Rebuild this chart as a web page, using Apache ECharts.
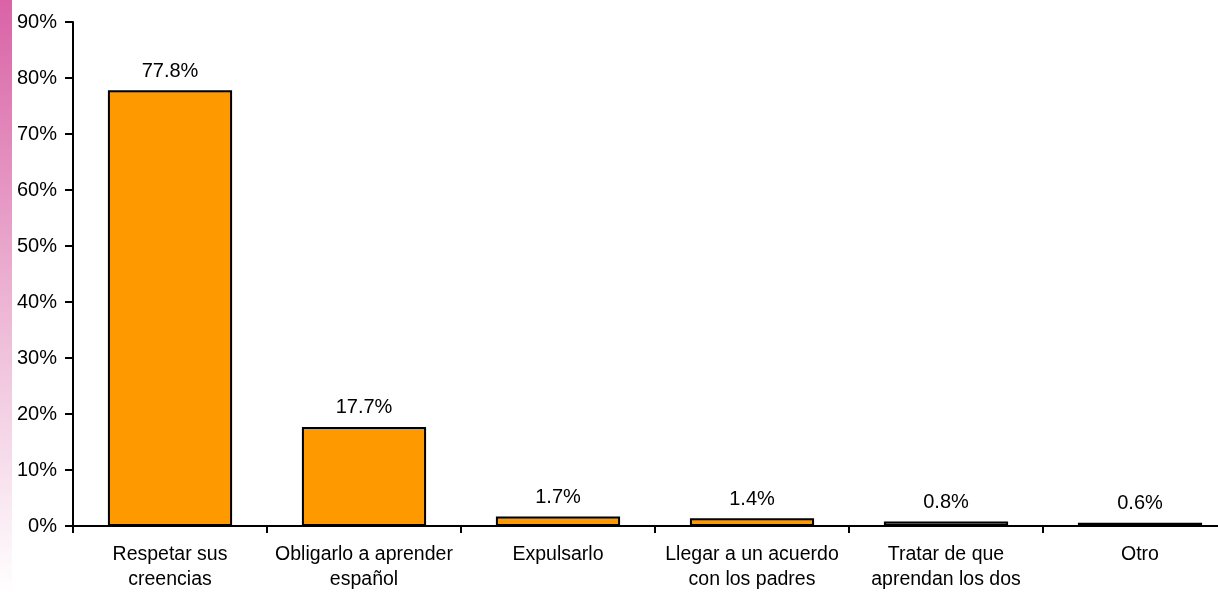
<!DOCTYPE html>
<html>
<head>
<meta charset="utf-8">
<style>
  html, body { margin: 0; padding: 0; background: #fff; }
  #chart { width: 1218px; height: 592px; }
</style>
<script src="https://cdn.jsdelivr.net/npm/echarts@6/dist/echarts.min.js"></script>
</head>
<body>
<div id="chart"></div>
<script>
// categorias y valores (porcentaje)
const categories = [
  'Respetar sus\ncreencias',
  'Obligarlo a aprender\nespañol',
  'Expulsarlo',
  'Llegar a un acuerdo\ncon los padres',
  'Tratar de que\naprendan los dos',
  'Otro'
]
const values = [77.8, 17.7, 1.7, 1.4, 0.8, 0.6]

const myChart = echarts.init(document.getElementById('chart'))

const font = 'Liberation Sans, Arial, sans-serif'

myChart.setOption({
  animation: false,
  backgroundColor: '#fff',
  textStyle: { fontFamily: font },
  graphic: [
    {
      type: 'rect',
      left: 0,
      top: 0,
      shape: { width: 12, height: 592 },
      style: {
        fill: new echarts.graphic.LinearGradient(0, 0, 0, 1, [
          { offset: 0, color: '#d963a6' },
          { offset: 0.5, color: '#ecb3d3' },
          { offset: 1, color: '#ffffff' }
        ])
      },
      silent: true
    }
  ],
  // el eje x sigue mas alla del borde derecho, como en el original
  grid: {
    left: 73,
    width: 1164,
    top: 22,
    height: 504,
    outerBoundsMode: 'none'
  },
  xAxis: {
    type: 'category',
    data: categories,
    axisLine: { lineStyle: { color: '#000', width: 2 } },
    axisTick: { show: true, length: 7, lineStyle: { color: '#000', width: 2 } },
    axisLabel: {
      color: '#000',
      fontSize: 19.5,
      lineHeight: 25,
      margin: 16,
      interval: 0
    }
  },
  yAxis: {
    type: 'value',
    min: 0,
    max: 90,
    interval: 10,
    splitLine: { show: false },
    axisLine: { show: true, lineStyle: { color: '#000', width: 2 } },
    axisTick: { show: true, length: 8, lineStyle: { color: '#000', width: 2 } },
    axisLabel: {
      color: '#000',
      fontSize: 20,
      margin: 16,
      formatter: '{value}%'
    }
  },
  series: [
    {
      type: 'bar',
      data: values,
      barWidth: '64%',
      itemStyle: {
        color: '#ff9900',
        borderColor: '#000',
        borderWidth: 2
      },
      label: {
        show: true,
        position: 'top',
        distance: 9,
        color: '#000',
        fontSize: 20,
        formatter: p => p.value.toFixed(1) + '%'
      }
    }
  ]
})
</script>
</body>
</html>
